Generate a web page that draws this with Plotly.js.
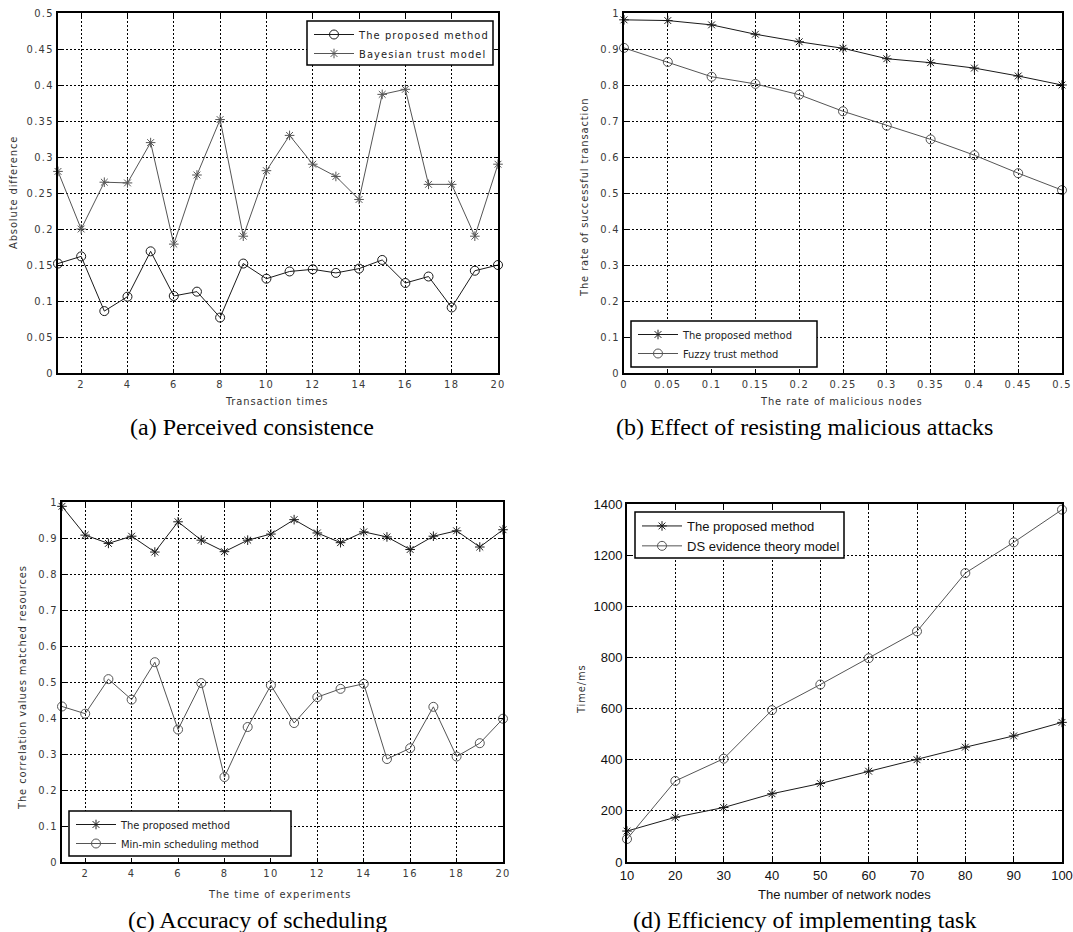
<!DOCTYPE html>
<html><head><meta charset="utf-8">
<script src="https://cdn.plot.ly/plotly-3.0.1.min.js"></script>
<style>
html,body{margin:0;padding:0;background:#fff;}
#chart{width:1073px;height:932px;}
.xtick text,.x2tick text,.x3tick text,.ytick text,.y2tick text,.y3tick text{letter-spacing:1.3px;}
text[data-unformatted="Transaction times"],
text[data-unformatted="Absolute difference"],
text[data-unformatted="The rate of malicious nodes"],
text[data-unformatted="The rate of successful transaction"],
text[data-unformatted="The time of experiments"],
text[data-unformatted="The correlation values matched resources"],
text[data-unformatted="Time/ms"]{letter-spacing:0.9px;}
</style></head><body><div id="chart"></div><script>
// ---------- data ----------
const transactionTimes = [1,2,3,4,5,6,7,8,9,10,11,12,13,14,15,16,17,18,19,20];
const aProposed = [0.152,0.162,0.086,0.106,0.169,0.107,0.113,0.077,0.152,0.131,0.141,0.144,0.139,0.145,0.157,0.125,0.134,0.091,0.142,0.150];
const aBayesian = [0.280,0.200,0.265,0.264,0.320,0.179,0.275,0.352,0.190,0.281,0.330,0.290,0.273,0.241,0.387,0.394,0.262,0.262,0.190,0.290];

const maliciousRate = [0,0.05,0.1,0.15,0.2,0.25,0.3,0.35,0.4,0.45,0.5];
const bProposed = [0.981,0.979,0.967,0.941,0.920,0.902,0.873,0.862,0.847,0.825,0.800];
const bFuzzy = [0.903,0.864,0.823,0.803,0.773,0.727,0.687,0.649,0.605,0.555,0.508];

const experimentTimes = [1,2,3,4,5,6,7,8,9,10,11,12,13,14,15,16,17,18,19,20];
const cProposed = [0.988,0.908,0.885,0.905,0.861,0.945,0.894,0.862,0.894,0.911,0.951,0.914,0.887,0.917,0.903,0.868,0.905,0.920,0.875,0.923];
const cMinMin = [0.432,0.412,0.508,0.451,0.555,0.368,0.497,0.236,0.375,0.491,0.386,0.458,0.481,0.495,0.286,0.316,0.431,0.293,0.330,0.398];

const networkNodes = [10,20,30,40,50,60,70,80,90,100];
const dProposed = [121,175,213,267,307,355,400,449,493,546];
const dDS = [90,317,404,594,694,797,902,1130,1250,1378];

const legendA = ['The proposed method','Bayesian trust model'];
const legendB = ['The proposed method','Fuzzy trust method'];
const legendC = ['The proposed method','Min-min scheduling method'];
const legendD = ['The proposed method','DS evidence theory model'];

// ---------- layout helpers ----------
const W = 1073, H = 932;
const fx = p => p / W;
const fy = p => 1 - p / H;
const narrow = 'DejaVu Sans Condensed, Liberation Sans Narrow, Arial Narrow, sans-serif';
const arial = 'Liberation Sans, Arial, sans-serif';
const serif = 'Liberation Serif, Times New Roman, serif';
const DARK = '#1a1a1a', GRAY = '#555';

const P = {
  a: {l:58, r:498, t:13, b:373},
  b: {l:624, r:1062, t:13, b:373},
  c: {l:62, r:503, t:502, b:862},
  d: {l:627, r:1062, t:504, b:862}
};

const narrowTick = {family:narrow, size:11, color:'#3a3a3a'};
const arialTick = {family:arial, size:13, color:'#111'};

function axis(p, horiz, extra, font) {
  return Object.assign({
    domain: horiz ? [fx(p.l), fx(p.r)] : [fy(p.b), fy(p.t)],
    showline:true, linecolor:'#000', linewidth:2, mirror:'ticks',
    ticks:'inside', ticklen:4, tickcolor:'#000', tickwidth:1,
    showgrid:true, gridcolor:'#000', griddash:'2px,2px', gridwidth:1,
    zeroline:false, fixedrange:true, ticklabeloverflow:'allow',
    tickfont: font || narrowTick
  }, extra);
}

function line(x, y, name, color, sym, size, xa, ya, leg) {
  return {x, y, name, type:'scatter', mode:'lines+markers', xaxis:xa, yaxis:ya, legend:leg,
    cliponaxis:false,
    line:{color, width:1},
    marker:{symbol:sym, size, color, line:{color, width:1}}};
}

const traces = [
  line(transactionTimes, aProposed, legendA[0], DARK, 'circle-open', 9, 'x', 'y', 'legend'),
  line(transactionTimes, aBayesian, legendA[1], GRAY, 'asterisk-open', 8, 'x', 'y', 'legend'),
  line(maliciousRate, bProposed, legendB[0], DARK, 'asterisk-open', 8, 'x2', 'y2', 'legend2'),
  line(maliciousRate, bFuzzy, legendB[1], GRAY, 'circle-open', 9, 'x2', 'y2', 'legend2'),
  line(experimentTimes, cProposed, legendC[0], DARK, 'asterisk-open', 8, 'x3', 'y3', 'legend3'),
  line(experimentTimes, cMinMin, legendC[1], GRAY, 'circle-open', 9, 'x3', 'y3', 'legend3'),
  line(networkNodes, dProposed, legendD[0], DARK, 'asterisk-open', 8, 'x4', 'y4', 'legend4'),
  line(networkNodes, dDS, legendD[1], GRAY, 'circle-open', 9, 'x4', 'y4', 'legend4')
];

const LB = {
  a: {l:307, r:493, t:21, b:65},
  b: {l:631, r:817, t:321, b:367},
  c: {l:69, r:291, t:811, b:856},
  d: {l:635, r:844, t:512, b:558}
};
function legendCfg(box, font) {
  return {x: fx(box.l + 2), xanchor:'left', y: fy(box.t - 1), yanchor:'top',
    bgcolor:'rgba(0,0,0,0)', borderwidth:0, itemwidth:40, traceorder:'normal',
    tracegroupgap:0, font: font, itemclick:false, itemdoubleclick:false};
}
const legFont = {family:narrow, size:11, color:'#222'};
const legFontD = {family:arial, size:13, color:'#111'};

const shapes = Object.values(LB).map(bx => ({
  type:'rect', xref:'paper', yref:'paper', layer:'above',
  x0: fx(bx.l), x1: fx(bx.r), y0: fy(bx.b), y1: fy(bx.t),
  fillcolor:'#fff', line:{color:'#000', width:1.5}
}));

function ann(text, x, y, font, angle) {
  return {text, x: fx(x), y: fy(y), xref:'paper', yref:'paper', showarrow:false,
    xanchor:'center', yanchor:'middle', textangle: angle || 0, font};
}
const titleFont = {family:narrow, size:11, color:'#333'};
const capFont = {family:serif, size:24, color:'#000'};
const annotations = [
  ann('Transaction times', 276, 401, titleFont),
  ann('Absolute difference', 13, 193, titleFont, -90),
  ann('The rate of malicious nodes', 841, 401, titleFont),
  ann('The rate of successful transaction', 585, 198, titleFont, -90),
  ann('The time of experiments', 280, 894, titleFont),
  ann('The correlation values matched resources', 22, 688, titleFont, -90),
  ann('The number of network nodes', 844, 894, {family:arial, size:13, color:'#111'}),
  ann('Time/ms', 581, 689, titleFont, -90),
  ann('(a) Perceived consistence', 252, 427, capFont),
  ann('(b) Effect of resisting malicious attacks', 804, 427, capFont),
  ann('(c) Accuracy of scheduling', 257, 920, capFont),
  ann('(d) Efficiency of implementing task', 804, 920, capFont)
];

const layout = {
  width: W, height: H, margin:{l:0, r:0, t:0, b:0},
  paper_bgcolor:'#fff', plot_bgcolor:'#fff',
  xaxis: axis(P.a, true, {anchor:'y', range:[1,20], tick0:0, dtick:2}),
  yaxis: axis(P.a, false, {anchor:'x', range:[0,0.5], dtick:0.05}),
  xaxis2: axis(P.b, true, {anchor:'y2', range:[0,0.5], dtick:0.05}),
  yaxis2: axis(P.b, false, {anchor:'x2', range:[0,1], dtick:0.1}),
  xaxis3: axis(P.c, true, {anchor:'y3', range:[1,20], tick0:0, dtick:2}),
  yaxis3: axis(P.c, false, {anchor:'x3', range:[0,1], dtick:0.1}),
  xaxis4: axis(P.d, true, {anchor:'y4', range:[10,100], dtick:10}, arialTick),
  yaxis4: axis(P.d, false, {anchor:'x4', range:[0,1400], dtick:200}, arialTick),
  legend: legendCfg(LB.a, legFont),
  legend2: legendCfg(LB.b, legFont),
  legend3: legendCfg(LB.c, legFont),
  legend4: legendCfg(LB.d, legFontD),
  shapes, annotations,
  showlegend:true
};

Plotly.newPlot('chart', traces, layout, {staticPlot:true, displayModeBar:false}).then(gd => {
  // spaced lettering for the MATLAB-style legends of panels (a)-(c)
  gd.querySelectorAll('text.legendtext').forEach(t => {
    const r = t.getBoundingClientRect();
    const inD = r.left > 530 && r.top > 466;
    if (!inD) t.style.letterSpacing = '1.1px';
  });
  // let the widened legend text show in full
  gd.querySelectorAll('[clip-path]').forEach(el => {
    const c = el.getAttribute('clip-path') || '';
    if (c.indexOf('legend') !== -1) el.removeAttribute('clip-path');
  });
});
</script></body></html>
